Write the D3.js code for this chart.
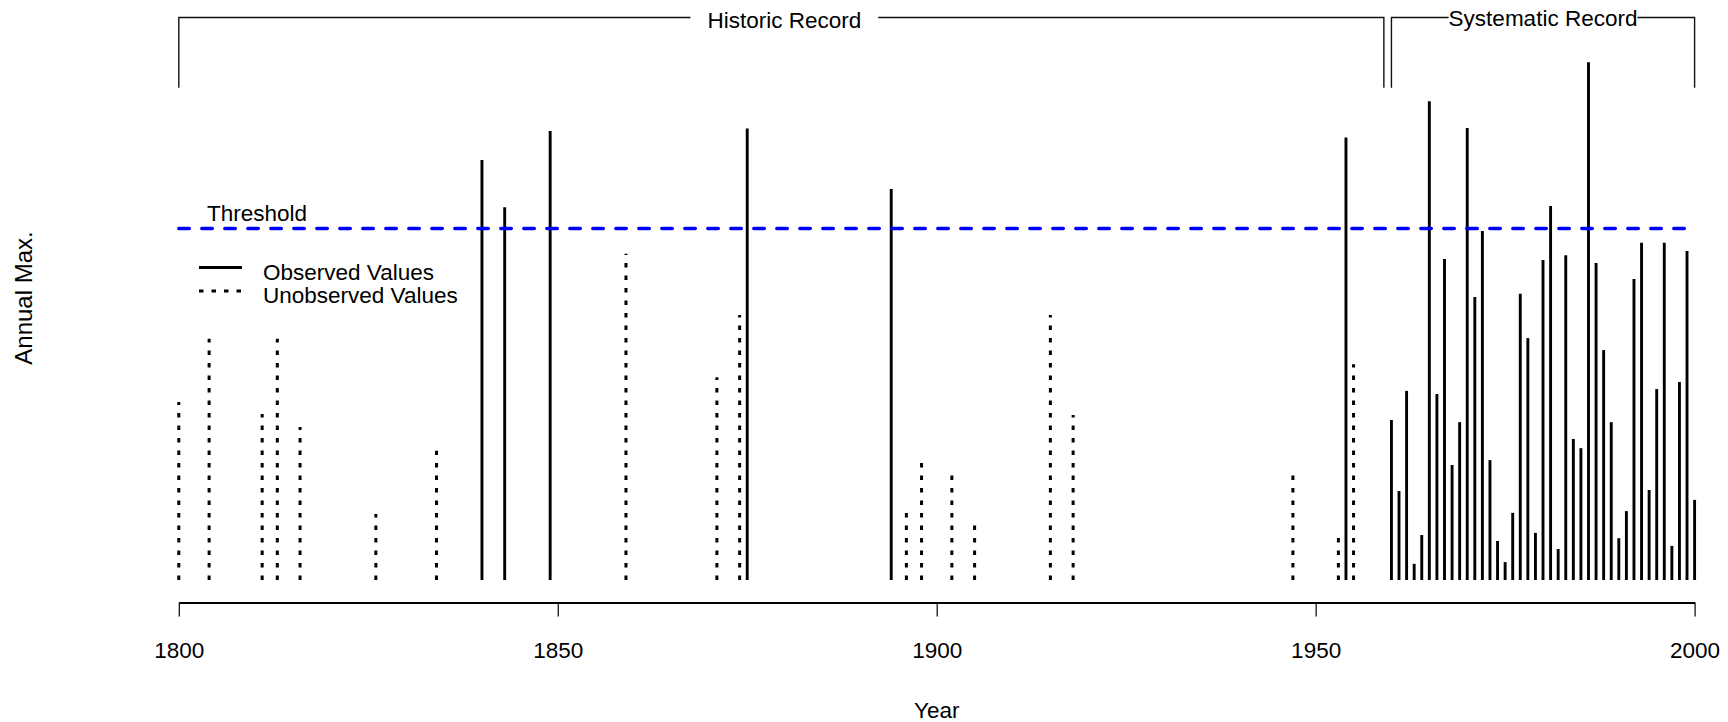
<!DOCTYPE html>
<html>
<head>
<meta charset="utf-8">
<script src="https://cdn.jsdelivr.net/npm/d3@7"></script>
<style>
body { margin: 0; background: #fff; }
text { font-family: "Liberation Sans", Arial, sans-serif; font-size: 22.5px; fill: #000; }
</style>
</head>
<body>
<div id="chart"></div>
<script>

// historic record, peaks that were observed (above threshold)
var histObsYears  = [1840, 1843, 1849, 1875, 1894, 1954];
var histObsValues = [119.5, 106.0, 127.7, 128.4, 111.2, 125.9];

// historic record, years below threshold (not observed)
var histUnobsYears  = [1800, 1804, 1811, 1813, 1816, 1826, 1834, 1859, 1871, 1874,
                       1896, 1898, 1902, 1905, 1915, 1918, 1947, 1953, 1955];
var histUnobsValues = [50.6, 68.6, 47.2, 68.6, 43.5, 18.8, 36.8, 92.8, 57.7, 75.4,
                       19.1, 33.3, 29.7, 15.6, 75.4, 46.9, 29.7, 12.1, 61.4];

// systematic record
var sysYears  = [1960, 1961, 1962, 1963, 1964, 1965, 1966, 1967, 1968, 1969,
                 1970, 1971, 1972, 1973, 1974, 1975, 1976, 1977, 1978, 1979,
                 1980, 1981, 1982, 1983, 1984, 1985, 1986, 1987, 1988, 1989,
                 1990, 1991, 1992, 1993, 1994, 1995, 1996, 1997, 1998, 1999, 2000];
var sysValues = [45.5, 25.3, 53.8, 4.6, 12.8, 136.2, 52.9, 91.3, 32.7, 44.9,
                 128.6, 80.5, 99.3, 34.1, 11.1, 5.1, 19.1, 81.4, 68.8, 13.4,
                 91.0, 106.4, 8.8, 92.4, 40.1, 37.5, 147.3, 90.2, 65.4, 44.9,
                 11.9, 19.6, 85.6, 95.9, 25.6, 54.3, 95.9, 9.7, 56.3, 93.6, 22.8];

var threshold = 100;
var xTicks = [1800, 1850, 1900, 1950, 2000];
var periodStart = [1800, 1960];
var periodEnd   = [1959, 2000];
var periodLabels = ["Historic Record", "Systematic Record"];
var legendLabels = ["Observed Values", "Unobserved Values"];

var W = 1728, H = 722;

var svg = d3.select("#chart").append("svg")
    .attr("width", W)
    .attr("height", H);

var x = d3.scaleLinear().domain([1800, 2000]).range([178.8, 1694.6]);
var y = d3.scaleLinear().domain([0, 160]).range([580, 17.5]);

var dotted = "4.5 8";

function drawSpikes(years, values, dash) {
    svg.append("g").selectAll("line")
        .data(years.map(function(d, i) { return {yr: d, v: values[i]}; }))
        .enter().append("line")
        .attr("x1", function(d) { return x(d.yr); })
        .attr("x2", function(d) { return x(d.yr); })
        .attr("y1", y(0))
        .attr("y2", function(d) { return y(d.v); })
        .attr("stroke", "#000")
        .attr("stroke-width", dash ? 3 : 2.9)
        .attr("stroke-dasharray", dash);
}

drawSpikes(histUnobsYears, histUnobsValues, dotted);
drawSpikes(histObsYears, histObsValues, null);
drawSpikes(sysYears, sysValues, null);

// threshold line
svg.append("line")
    .attr("x1", x(1800)).attr("x2", x(2000))
    .attr("y1", y(threshold)).attr("y2", y(threshold))
    .attr("stroke", "#0000ff")
    .attr("stroke-width", 3.5)
    .attr("stroke-linecap", "round")
    .attr("stroke-dasharray", "10.5 12.5");

svg.append("text")
    .attr("x", 207)
    .attr("y", y(threshold) - 7)
    .text("Threshold");

// record brackets
var bracketTop = 160, bracketFoot = 140;
var pads = [17, 0];
var labelBase = [28, 26];
periodStart.forEach(function(s, i) {
    var e = periodEnd[i];
    var p = d3.path();
    p.moveTo(x(s), y(bracketFoot));
    p.lineTo(x(s), y(bracketTop));
    p.lineTo(x(e), y(bracketTop));
    p.lineTo(x(e), y(bracketFoot));
    svg.append("path")
        .attr("d", p.toString())
        .attr("fill", "none")
        .attr("stroke", "#111")
        .attr("stroke-width", 1.4);

    var cx = x((s + e) / 2);
    var t = svg.append("text")
        .attr("x", cx + (i === 0 ? 3 : 0))
        .attr("y", labelBase[i])
        .attr("text-anchor", "middle")
        .text(periodLabels[i]);
    var bb = t.node().getBBox();
    svg.insert("rect", function() { return t.node(); })
        .attr("x", bb.x - pads[i])
        .attr("y", y(bracketTop) - 3)
        .attr("width", bb.width + 2 * pads[i])
        .attr("height", 6)
        .attr("fill", "#fff");
});

// legend
var leg = svg.append("g");
legendLabels.forEach(function(lab, i) {
    var ly = 267.5 + i * 23.5;
    leg.append("line")
        .attr("x1", 199).attr("x2", 242)
        .attr("y1", ly).attr("y2", ly)
        .attr("stroke", "#000")
        .attr("stroke-width", i === 0 ? 2.9 : 3)
        .attr("stroke-dasharray", i === 0 ? null : dotted);
    leg.append("text")
        .attr("x", 263)
        .attr("y", ly + 12)
        .text(lab);
});

// x axis
var xAxis = d3.axisBottom(x)
    .tickValues(xTicks)
    .tickFormat(d3.format("d"))
    .tickSize(14)
    .tickSizeOuter(0)
    .tickPadding(26);

var ax = svg.append("g")
    .attr("transform", "translate(0,602.5)")
    .call(xAxis);
ax.select(".domain").attr("stroke", "#000").attr("stroke-width", 2);
ax.selectAll(".tick line").attr("stroke", "#000").attr("stroke-width", 1.2);
ax.selectAll(".tick text")
    .attr("fill", "#000")
    .style("font-family", "'Liberation Sans', Arial, sans-serif")
    .style("font-size", "22.5px");

svg.append("text")
    .attr("x", x(1900))
    .attr("y", 717.5)
    .attr("text-anchor", "middle")
    .text("Year");

svg.append("text")
    .attr("transform", "translate(32,298) rotate(-90)")
    .attr("text-anchor", "middle")
    .style("font-size", "24px")
    .text("Annual Max.");

</script>
</body>
</html>
